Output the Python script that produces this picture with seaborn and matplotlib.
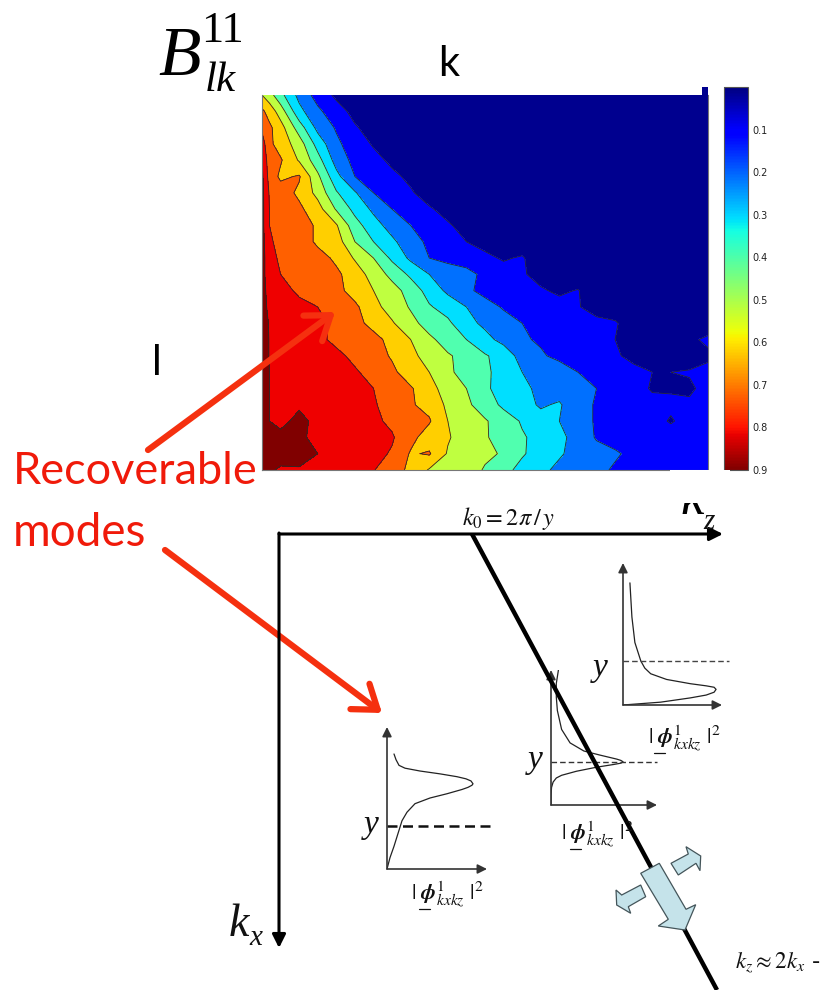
import numpy as np
import matplotlib
matplotlib.use("Agg")
import matplotlib.pyplot as plt
import seaborn as sns
from matplotlib.colors import ListedColormap, Normalize
from matplotlib.cm import ScalarMappable
from matplotlib.patches import Polygon, Rectangle

W, H = 826, 990

# B11_lk values, rows are l (top to bottom), columns are k (left to right)
k_pos = [0, .4, 1, 2, 3, 4, 5, 6, 7, 8, 9, 10, 11, 12, 13, 14, 15, 16, 17, 18, 19, 20, 21, 22, 23, 24]
l_pos = list(range(24))
b11_rows = [
    [.60,.54,.43,.27,.16,.08,.05,.04,.04,.04,.04,.04,.04,.04,.04,.04,.04,.04,.04,.04,.04,.04,.04,.04,.04,.04],
    [.72,.66,.55,.33,.22,.14,.07,.04,.04,.04,.04,.04,.04,.04,.04,.04,.04,.04,.04,.04,.04,.04,.04,.04,.04,.04],
    [.78,.72,.64,.45,.27,.19,.11,.06,.04,.04,.04,.04,.04,.04,.04,.04,.04,.04,.04,.04,.04,.04,.04,.04,.04,.04],
    [.85,.72,.66,.55,.36,.22,.15,.09,.05,.04,.04,.04,.04,.04,.04,.04,.04,.04,.04,.04,.04,.04,.04,.04,.04,.04],
    [.90,.74,.71,.59,.44,.26,.17,.13,.08,.05,.04,.04,.04,.04,.04,.04,.04,.04,.04,.04,.04,.04,.04,.04,.04,.04],
    [.92,.76,.68,.71,.52,.33,.20,.16,.12,.08,.05,.04,.04,.04,.04,.04,.04,.04,.04,.04,.04,.04,.04,.04,.04,.04],
    [.93,.79,.75,.68,.57,.41,.31,.20,.15,.11,.06,.04,.04,.04,.04,.04,.04,.04,.04,.04,.04,.04,.04,.04,.04,.04],
    [.93,.80,.78,.72,.64,.49,.37,.28,.20,.16,.11,.07,.05,.04,.04,.04,.04,.04,.04,.04,.04,.04,.04,.04,.04,.04],
    [.93,.80,.77,.73,.69,.61,.44,.34,.26,.20,.15,.11,.07,.05,.04,.04,.04,.04,.04,.04,.04,.04,.04,.04,.04,.04],
    [.94,.81,.78,.76,.68,.65,.50,.40,.32,.24,.18,.14,.10,.07,.05,.04,.04,.04,.04,.04,.04,.04,.04,.04,.04,.04],
    [.95,.82,.79,.77,.74,.68,.59,.50,.38,.28,.20,.17,.14,.12,.09,.11,.04,.04,.04,.04,.04,.04,.04,.04,.04,.04],
    [.95,.82,.80,.78,.75,.72,.65,.56,.47,.38,.30,.26,.24,.17,.14,.11,.07,.05,.04,.04,.04,.04,.04,.04,.04,.04],
    [.95,.85,.84,.78,.75,.73,.66,.60,.54,.46,.36,.28,.22,.17,.15,.13,.11,.085,.105,.04,.04,.04,.04,.04,.04,.04],
    [.95,.87,.84,.83,.80,.76,.72,.63,.56,.49,.41,.36,.30,.24,.19,.16,.14,.13,.105,.07,.05,.04,.04,.04,.04,.04],
    [.96,.89,.86,.85,.82,.78,.73,.67,.61,.53,.46,.42,.33,.28,.24,.20,.18,.16,.14,.12,.11,.05,.04,.04,.04,.04],
    [.96,.895,.87,.86,.82,.78,.76,.73,.67,.60,.52,.46,.40,.33,.27,.21,.19,.18,.15,.12,.10,.07,.06,.05,.08,.12],
    [.96,.895,.88,.87,.85,.82,.78,.74,.69,.62,.57,.51,.47,.41,.36,.26,.21,.18,.16,.13,.11,.08,.07,.07,.07,.08],
    [.95,.90,.88,.88,.87,.84,.81,.77,.72,.65,.60,.53,.44,.42,.36,.30,.28,.24,.20,.16,.14,.12,.10,.10,.105,.13],
    [.94,.90,.90,.90,.88,.86,.84,.80,.76,.71,.64,.55,.50,.43,.33,.32,.28,.26,.23,.20,.16,.14,.09,.09,.09,.12],
    [.93,.90,.89,.89,.88,.86,.83,.81,.76,.71,.67,.58,.52,.45,.38,.33,.29,.31,.24,.19,.16,.15,.13,.12,.11,.12],
    [.93,.90,.88,.92,.88,.86,.84,.82,.78,.71,.71,.60,.54,.51,.45,.39,.33,.30,.24,.19,.16,.15,.14,.09,.14,.14],
    [.93,.93,.92,.91,.885,.87,.85,.83,.81,.73,.65,.61,.55,.51,.46,.41,.37,.32,.27,.19,.17,.16,.15,.15,.15,.14],
    [.92,.93,.93,.92,.90,.875,.85,.83,.79,.69,.71,.59,.55,.52,.49,.41,.36,.31,.27,.24,.21,.18,.16,.15,.15,.14],
    [.92,.91,.89,.895,.87,.85,.83,.805,.74,.68,.59,.60,.55,.49,.43,.37,.32,.28,.25,.22,.19,.18,.17,.16,.16,.16],
]
contour_levels = [0, .1, .2, .3, .4, .5, .6, .7, .8, .9, 1.0]
band_colors = ["#00008f", "#0000ff", "#0070ff", "#00dfff", "#50ffaf",
               "#bfff40", "#ffcf00", "#ff6000", "#ef0000", "#800000"]
cbar_ticks = [.1, .2, .3, .4, .5, .6, .7, .8, .9]

# inset curves, |phi|^2 against y, both scaled to the inset axes
left_phi = [0,.03,.07,.11,.15,.20,.28,.43,.60,.75,.81,.85,.86,.84,.79,.70,.53,.33,.18,.12,.09,.07]
left_y = [0,.08,.16,.25,.34,.40,.46,.50,.53,.56,.575,.59,.60,.62,.635,.65,.67,.69,.71,.73,.77,.81]
mid_phi = [0,0,.005,.02,.05,.10,.24,.43,.59,.66,.68,.66,.62,.46,.31,.18,.10,.06,.05,.05,.07]
mid_y = [0,.07,.13,.17,.20,.22,.25,.28,.30,.31,.32,.33,.34,.37,.40,.46,.56,.70,.80,.90,1.0]
right_phi = [0,.38,.68,.84,.92,.94,.92,.84,.68,.44,.28,.22,.18,.12,.09,.07]
right_y = [0,.02,.05,.07,.09,.11,.125,.135,.15,.18,.22,.26,.31,.44,.62,.86]

phi_label = r"$|\ \mathbfit{\phi}^{1}_{kxkz}\ |^{2}$"
serif = "Liberation Serif"
sans = "Lato"

sns.set_theme(style="white")
plt.rcParams["mathtext.fontset"] = "stix"


def px_axes(fig, x0, y0, x1, y1):
    return fig.add_axes([x0 / W, 1 - y1 / H, (x1 - x0) / W, (y1 - y0) / H])


def draw_inset(fig, box, phi, y, dash_y, dash_end, dash_lw, dash_col):
    ax = px_axes(fig, *box)
    ax.patch.set_alpha(0)
    sns.lineplot(x=phi, y=y, sort=False, estimator=None, color="#222222", lw=0.9, ax=ax)
    ax.plot([0, dash_end], [dash_y, dash_y], color=dash_col, lw=dash_lw, ls=(0, (4, 2.2)), clip_on=False)
    for end in [(1.0, 0), (0, 1.0)]:
        ax.annotate("", xy=end, xytext=(0, 0), arrowprops=dict(arrowstyle="-|>", color="#333333", lw=1.2,
                                                                mutation_scale=14, shrinkA=0, shrinkB=0))
    ax.set_xlim(0, 1)
    ax.set_ylim(0, 1)
    ax.set_xticks([])
    ax.set_yticks([])
    sns.despine(ax=ax, left=True, bottom=True)


fig = plt.figure(figsize=(W / 100, H / 100), dpi=100, facecolor="white")

# contour map
ax = px_axes(fig, 262, 95, 708, 470)
z = np.array(b11_rows)
cmap = ListedColormap(band_colors)
ax.contourf(k_pos, l_pos, z, levels=contour_levels, cmap=cmap, norm=Normalize(0, 1))
ax.contour(k_pos, l_pos, z, levels=contour_levels[1:-1], colors="#2a2a2a", linewidths=0.6)
ax.invert_yaxis()
ax.set_xticks([3, 6, 9, 12, 15, 18, 21])
ax.set_yticks([3, 6, 9, 12, 15, 18, 21])
ax.tick_params(direction="in", length=2, width=0.5, color="#555555", left=True, bottom=True,
               labelleft=False, labelbottom=False)
ax.spines["top"].set_visible(False)
for side in ["left", "bottom", "right"]:
    ax.spines[side].set_color("#777777")
    ax.spines[side].set_linewidth(0.8)

# colour bar
cax = px_axes(fig, 724, 87, 748, 470)
cb = fig.colorbar(ScalarMappable(Normalize(0, 0.9), "jet"), cax=cax)
cb.ax.invert_yaxis()
cb.set_ticks(cbar_ticks)
cb.set_ticklabels([f"{t:.1f}" for t in cbar_ticks])
cax.tick_params(direction="in", length=3, width=0.5, color="#333333", labelsize=7, labelcolor="#222222", pad=3, right=True)
cb.outline.set_edgecolor("#555555")
cb.outline.set_linewidth(0.8)

# the three sketches of the modes
draw_inset(fig, (387, 727, 487, 869), left_phi, left_y, 0.30, 1.07, 1.8, "#111111")
draw_inset(fig, (551, 670, 657, 805), mid_phi, mid_y, 0.32, 1.0, 1.0, "#333333")
draw_inset(fig, (623, 563, 722, 705), right_phi, right_y, 0.31, 1.07, 1.0, "#444444")

# everything else is in picture pixels
over = fig.add_axes([0, 0, 1, 1])
over.set_xlim(0, W)
over.set_ylim(H, 0)
over.axis("off")
over.patch.set_alpha(0)

over.add_patch(Rectangle((702, 87), 6, 9, color="#00008f", lw=0))

over.text(158, 75, "B", family=serif, style="italic", fontsize=50, color="black", ha="left", va="baseline")
over.text(201, 42, "11", family=serif, fontsize=32, color="black", ha="left", va="baseline")
over.text(205, 91, "lk", family=serif, style="italic", fontsize=31, color="black", ha="left", va="baseline")
over.text(449, 76, "k", family=sans, fontsize=30, color="black", ha="center", va="baseline")
over.text(157, 375, "l", family=sans, fontsize=30, color="black", ha="center", va="baseline")

over.text(13, 484, "Recoverable", family=sans, fontsize=32.5, color="#f01a0a", ha="left", va="baseline")
over.text(13, 546, "modes", family=sans, fontsize=33, color="#f01a0a", ha="left", va="baseline")
for tail, tip in [((148, 450), (335, 312)), ((165, 550), (382, 713))]:
    over.annotate("", xy=tip, xytext=tail,
                  arrowprops=dict(arrowstyle="->,head_length=0.42,head_width=0.3", color="#f5300f", lw=4.5,
                                  mutation_scale=38, shrinkA=0, shrinkB=0))

# k_z, k_x axes
over.annotate("", xy=(723, 534), xytext=(279, 534),
              arrowprops=dict(arrowstyle="-|>", color="black", lw=2.2, mutation_scale=20, shrinkA=0, shrinkB=0))
over.annotate("", xy=(279, 948), xytext=(279, 533),
              arrowprops=dict(arrowstyle="-|>", color="black", lw=2.2, mutation_scale=20, shrinkA=0, shrinkB=0))
over.plot([472, 717], [534, 990], color="black", lw=3.2, solid_capstyle="butt")

over.text(462, 525, r"$k_0 = 2\pi\,/\,y$", fontsize=17.5, color="#111111", ha="left", va="baseline")
over.text(680, 514, "k", family=serif, style="italic", fontsize=38, color="black", ha="left", va="baseline")
over.add_patch(Rectangle((670, 470), 60, 33, color="white", lw=0, zorder=3))
over.text(703, 529, "z", family=serif, style="italic", fontsize=21, color="#111111", ha="left", va="baseline", zorder=4)
over.text(229, 936, "k", family=serif, style="italic", fontsize=33, color="#111111", ha="left", va="baseline")
over.text(249, 945, "x", family=serif, style="italic", fontsize=21, color="#111111", ha="left", va="baseline")

for x, y_pos in [(364, 833), (528, 768), (593, 676)]:
    over.text(x, y_pos, "y", family=serif, style="italic", fontsize=24, color="#111111", ha="left", va="baseline")
for x, y_pos, ux in [(411, 900, 419), (561, 840, 570), (648, 744, 654)]:
    over.text(x, y_pos, phi_label, fontsize=16, color="#111111", ha="left", va="baseline")
    over.plot([ux, ux + 11], [y_pos + 9, y_pos + 9], color="#111111", lw=0.9)

# direction arrows on the wave line
big_arrow = [(640.7, 873.3), (659.3, 863.3), (686, 909.3), (695.7, 904.7), (685, 930), (658.3, 926), (668.3, 919.3)]
up_arrow = [(671, 863.3), (688.3, 854), (686, 846.7), (700.7, 856), (700, 870.7), (696, 863.3), (678.3, 875)]
down_arrow = [(640.7, 885), (645.7, 896.7), (628.3, 906.7), (630.7, 913.3), (616.7, 905), (616, 890), (621.7, 895)]
for pts in [big_arrow, up_arrow, down_arrow]:
    over.add_patch(Polygon(pts, closed=True, facecolor="#c5e3ea", edgecolor="#44555a", lw=0.9, zorder=5))

over.text(735, 968, r"$k_z \approx 2k_x$ -", fontsize=16.5, color="#111111", ha="left", va="baseline")

fig.savefig("out.png", dpi=100, facecolor="white")
